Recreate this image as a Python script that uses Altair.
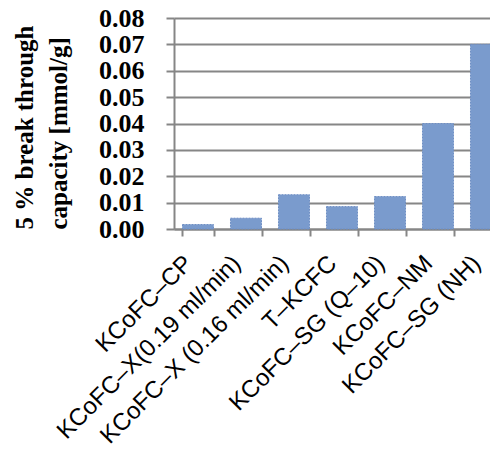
import altair as alt
import pandas as pd

categories = [
    "KCoFC–CP",
    "KCoFC–X(0.19 ml/min)",
    "KCoFC–X (0.16 ml/min)",
    "T–KCFC",
    "KCoFC–SG (Q–10)",
    "KCoFC–NM",
    "KCoFC–SG (NH)",
]
values = [0.0017, 0.0041, 0.0130, 0.0085, 0.0123, 0.0400, 0.0700]
y_ticks = [0.00, 0.01, 0.02, 0.03, 0.04, 0.05, 0.06, 0.07, 0.08]

df = pd.DataFrame({"cat": categories, "val": values})

bars = alt.Chart(df).mark_bar(
    color="#7a9bcd",
    stroke="#6f8fc4",
    strokeWidth=1,
    strokeDash=[2, 1],
).encode(
    x=alt.X(
        "cat:N",
        sort=categories,
        scale=alt.Scale(range=[0, 336], paddingInner=0.354, paddingOuter=0.177),
        axis=alt.Axis(
            title=None,
            labelAngle=-45,
            labelFont="Liberation Sans",
            labelFontSize=24,
            labelColor="black",
            labelPadding=15,
            labelOffset=-18,
            labelLimit=0,
            labelOverlap=False,
            tickBand="extent",
            tickSize=7,
            tickWidth=2,
            tickColor="#868686",
            domainColor="#868686",
            domainWidth=2,
            grid=False,
        ),
    ),
    y=alt.Y(
        "val:Q",
        scale=alt.Scale(domain=[0, 0.08], nice=False),
        axis=alt.Axis(
            values=y_ticks,
            format=".2f",
            title=["5 % break through", "capacity [mmol/g]"],
            titleFont="Liberation Serif",
            titleFontSize=25,
            titleFontWeight="bold",
            titleColor="black",
            titleAngle=-90,
            titleAlign="left",
            titleBaseline="middle",
            titleLineHeight=34,
            titleX=-150,
            titleY=211,
            labelFont="Liberation Serif",
            labelFontSize=26,
            labelFontWeight="bold",
            labelColor="black",
            labelPadding=22,
            tickSize=8,
            tickWidth=2,
            tickColor="#868686",
            domainColor="#868686",
            domainWidth=2,
            gridColor="#868686",
            gridWidth=2,
        ),
    ),
)

chart = bars.properties(
    width=316,
    height=211,
    padding={"left": 166, "top": 10, "right": 0, "bottom": 216},
    autosize=alt.AutoSizeParams(type="none"),
).configure_view(stroke=None)

chart.save("out.html", embed_options={"renderer": "svg", "actions": False})
